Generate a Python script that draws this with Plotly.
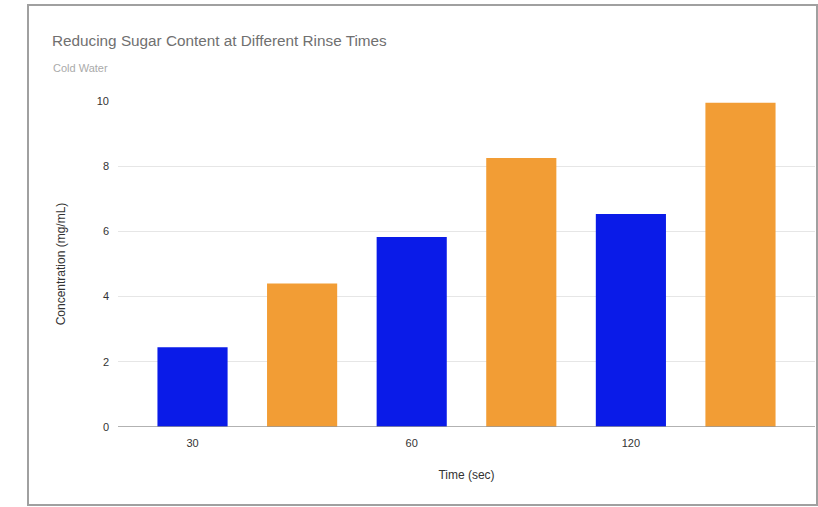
import plotly.graph_objects as go

# Data
tick_labels = ["30", "", "60", "", "120", ""]
concentration = [2.45, 4.4, 5.83, 8.25, 6.53, 9.95]
bar_colors = ["#0a1be8", "#f29d35", "#0a1be8", "#f29d35", "#0a1be8", "#f29d35"]
y_ticks = [0, 2, 4, 6, 8, 10]

W, H = 818, 507
L, R, T, B = 118, 3, 101, 80
pw = W - L - R
ph = H - T - B

def px_x(p):
    return (p - L) / pw

def px_y(p):
    return (H - B - p) / ph

positions = list(range(len(concentration)))

fig = go.Figure()
fig.add_trace(go.Bar(
    x=positions,
    y=concentration,
    marker=dict(color=bar_colors, line=dict(width=0)),
    width=0.64,
    hoverinfo="x+y",
))

font_family = "Liberation Sans, Arial, sans-serif"

fig.update_layout(
    width=W, height=H,
    margin=dict(l=L, r=R, t=T, b=B),
    paper_bgcolor="white",
    plot_bgcolor="white",
    showlegend=False,
    font=dict(family=font_family, color="#333333", size=11),
    title=dict(
        text="Reducing Sugar Content at Different Rinse Times",
        font=dict(family=font_family, size=15.3, color="#707070"),
        x=52 / W, xref="container", xanchor="left",
        y=1 - 41 / H, yref="container", yanchor="middle",
    ),
    xaxis=dict(
        range=[-0.68, 5.68],
        tickmode="array",
        tickvals=positions,
        ticktext=tick_labels,
        showgrid=False,
        zeroline=False,
        showline=False,
        ticks="",
        ticklabelstandoff=8,
        tickfont=dict(size=11, color="#333333"),
        title=dict(text="Time (sec)", font=dict(size=12, color="#333333"), standoff=22),
        fixedrange=True,
    ),
    yaxis=dict(
        range=[0, 10],
        tickmode="array",
        tickvals=y_ticks,
        ticktext=[str(v) for v in y_ticks],
        showgrid=True,
        gridcolor="#e6e6e6",
        gridwidth=1,
        zeroline=False,
        showline=False,
        ticks="",
        ticklabelstandoff=8,
        tickfont=dict(size=11, color="#333333"),
        title=dict(text="Concentration (mg/mL)", font=dict(size=12, color="#333333"), standoff=28),
        fixedrange=True,
    ),
    annotations=[
        dict(
            text="Cold Water",
            xref="paper", yref="paper",
            x=px_x(51), y=px_y(68),
            xanchor="left", yanchor="middle",
            showarrow=False,
            font=dict(family=font_family, size=11, color="#aaaaaa"),
        )
    ],
    shapes=[
        # baseline
        dict(type="line", xref="paper", yref="y",
             x0=0, x1=1, y0=0, y1=0,
             line=dict(color="#999999", width=1.5)),
        # outer chart border
        dict(type="rect", xref="paper", yref="paper",
             x0=px_x(28), x1=px_x(817), y0=px_y(505), y1=px_y(5),
             line=dict(color="#a0a0a0", width=2),
             fillcolor="rgba(0,0,0,0)", layer="below"),
    ],
)

fig.write_html("out.html")
